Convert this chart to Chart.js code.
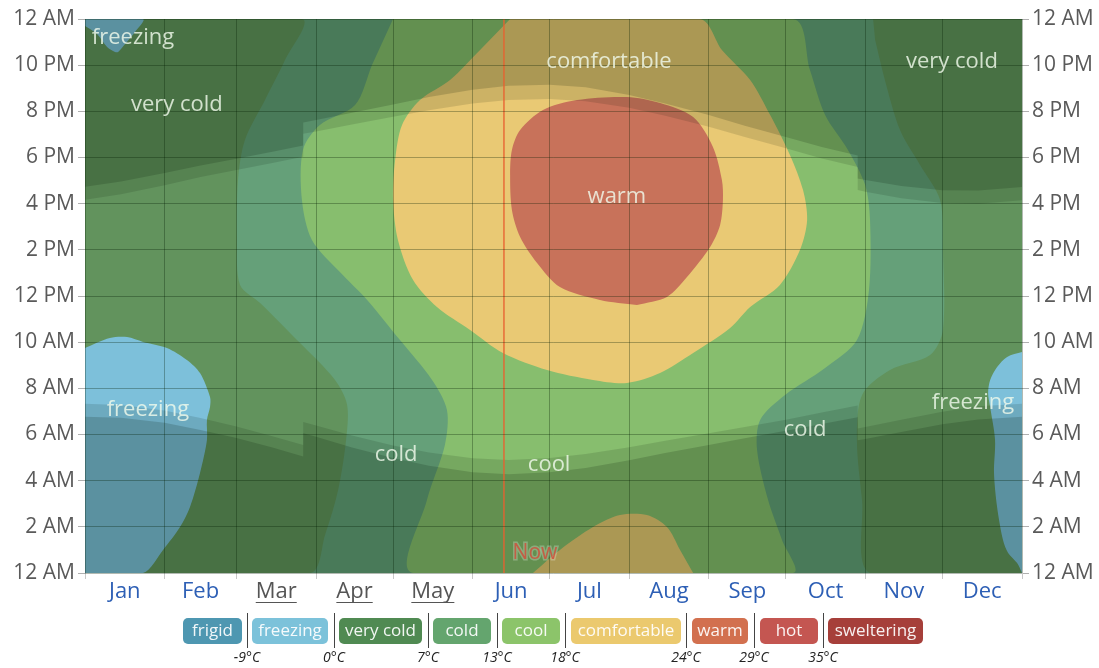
<!DOCTYPE html>
<html><head><meta charset="utf-8">
<script src="https://cdn.jsdelivr.net/npm/chart.js@4/dist/chart.umd.min.js"></script>
<style>html,body{margin:0;padding:0;background:#fff;overflow:hidden}canvas{display:block}</style>
</head><body>
<canvas id="c" width="1099" height="668"></canvas>
<script>
const FONT = '"Open Sans", "Noto Sans", "DejaVu Sans", sans-serif';

// ---------- axes ----------
const months = ['Jan','Feb','Mar','Apr','May','Jun','Jul','Aug','Sep','Oct','Nov','Dec'];
const monthStartDays = [0,31,59,90,120,151,181,212,243,273,304,334,365];
const linkedMonths = ['Mar','Apr','May'];
const hourTicks = [0,2,4,6,8,10,12,14,16,18,20,22,24];
const hourLabels = ['12 AM','2 AM','4 AM','6 AM','8 AM','10 AM','12 PM','2 PM','4 PM','6 PM','8 PM','10 PM','12 AM'];
const nowDay = 163.2;

// ---------- legend ----------
const bandNames = ['frigid','freezing','very cold','cold','cool','comfortable','warm','hot','sweltering'];
const bandThresholds = ['-9°C','0°C','7°C','13°C','18°C','24°C','29°C','35°C'];
const bandColors = ['#4e97b1','#7cc2da','#508a52','#64a56e','#8cc46a','#ebc96e','#d2704f','#c45651','#a63f3a'];

// ---------- sun (hour of day) ----------
const sunDays  = [0,14,31,45,59,73,85,85,90,104,120,134,151,165,181,195,212,226,243,257,273,287,301,301,304,318,334,348,365];
const sunsetH  = [16.17,16.41,16.80,17.15,17.46,17.76,18.03,19.03,19.13,19.43,19.77,20.05,20.34,20.49,20.53,20.44,20.15,19.81,19.33,18.89,18.40,17.96,17.59,16.59,16.52,16.23,16.03,16.00,16.15];
const duskH    = [16.73,16.96,17.33,17.65,17.95,18.25,18.52,19.52,19.62,19.94,20.30,20.62,20.94,21.11,21.15,21.04,20.71,20.34,19.84,19.38,18.89,18.46,18.09,17.09,17.03,16.76,16.58,16.57,16.72];
const sunriseH = [7.33,7.28,7.04,6.71,6.35,5.92,5.54,6.54,6.39,5.96,5.52,5.22,4.97,4.90,4.98,5.15,5.45,5.73,6.05,6.33,6.64,6.95,7.26,6.26,6.32,6.64,6.99,7.22,7.33];
const dawnH    = [6.77,6.73,6.51,6.20,5.85,5.44,5.05,6.05,5.90,5.44,4.98,4.65,4.37,4.28,4.36,4.55,4.88,5.20,5.55,5.84,6.16,6.46,6.75,5.75,5.81,6.11,6.44,6.65,6.77];

// ---------- temperature band outlines [day, hour] ----------
const wholeYear = [[0,0],[365,0],[365,24],[0,24]];
const veryColdWest = [[0,24],[84.5,24],[77.9,22.22],[70.1,20.49],[62.3,18.76],[59.6,17.03],[59.2,14.43],[60.4,12.48],[68.2,11.70],[83.8,9.96],[97.4,8.36],[102.1,7.28],[101.7,5.76],[98.6,3.60],[93.5,1.65],[87.7,0],[0,0]];
const veryColdEast = [[307.0,24],[365,24],[365,0],[305.8,0],[302.7,3.16],[300.7,5.76],[302.7,7.71],[313.6,8.79],[329.2,9.44],[334.2,10.53],[334.2,13.99],[333.1,16.16],[325.3,17.68],[317.5,19.19],[311.6,21.36],[307.8,23.09]];
const coolSeason = [[120.0,24],[275.8,24],[282.4,21.79],[288.3,19.84],[297.2,18.33],[303.9,16.81],[305.8,15.29],[305.4,12.26],[300.7,10.09],[288.3,8.88],[272.7,7.71],[263.0,6.63],[261.8,5.33],[266.1,3.16],[271.5,1.43],[275.8,0],[127.8,0],[133.2,3.16],[140.2,5.55],[141.0,7.06],[135.2,8.36],[122.7,10.09],[109.9,11.83],[99.3,13.04],[88.4,14.43],[84.5,16.16],[84.9,18.33],[91.5,19.41],[105.2,20.27],[111.8,22.01]];
const comfortableSeason = [[165.6,24],[239.6,24],[248.1,22.66],[259.1,21.36],[266.9,19.84],[274.6,18.11],[279.7,16.59],[281.3,15.29],[278.5,13.99],[270.7,12.48],[259.1,11.52],[251.3,10.61],[236.9,9.53],[224.0,8.66],[211.1,8.23],[197.9,8.36],[180.0,8.79],[162.8,9.53],[150.0,10.53],[137.1,11.52],[127.8,12.69],[121.9,14.43],[120.0,16.16],[120.8,17.89],[123.5,19.41],[130.5,20.49],[142.2,21.36],[153.9,22.66]];
const comfortableNights = [[174.5,0],[185.0,1.0],[197.9,1.99],[208.4,2.51],[218.9,2.51],[226.7,1.99],[231.8,1.0],[236.9,0]];
const warmSeason = [[215.0,11.61],[200.6,11.83],[185.0,12.39],[176.1,13.43],[169.5,14.56],[166.3,15.73],[165.6,17.24],[166.3,18.33],[169.5,19.19],[178.4,20.06],[191.7,20.49],[211.1,20.62],[224.0,20.36],[236.9,19.75],[244.6,18.46],[248.1,17.03],[248.5,16.16],[247.4,15.08],[243.5,14.12],[234.5,12.82],[226.7,11.96],[215.0,11.61]];
const freezingWinterMornings = [[0,9.75],[9.7,10.18],[16.4,10.22],[22.6,10.01],[31.9,9.75],[39.7,9.23],[44.8,8.66],[48.7,7.62],[48.7,7.19],[47.5,6.63],[47.5,5.76],[44.8,4.33],[40.9,2.86],[37.0,1.99],[30.4,1.0],[22.6,0],[0,0]];
const freezingDecMornings = [[365,9.57],[359.2,9.36],[355.3,8.92],[352.6,8.36],[351.8,7.80],[352.6,7.19],[354.5,5.76],[354.1,4.33],[355.3,2.86],[357.6,1.43],[359.6,0.87],[363.1,0.43],[365,0]];
const freezingJanNights = [[0,24],[22.6,24],[19.5,23.44],[15.6,22.92],[12.9,22.57],[11.7,22.57],[8.6,22.79],[4.7,23.35],[0,23.7]];

const fillColors = {freezing:'#7dc0da', veryCold:'#62935d', cold:'#65a079', cool:'#87be6e', comfortable:'#e9c974', warm:'#c8725a'};

const regionLabels = [
  ['freezing',18.7,23.18],['very cold',35.8,20.27],['comfortable',204.1,22.14],['warm',207.2,16.29],
  ['very cold',337.7,22.14],['freezing',24.5,7.06],['freezing',345.9,7.36],['cold',121.2,5.11],
  ['cold',280.5,6.2],['cool',180.8,4.68]
];

// ---------- build datasets ----------
const pts = a => a.map(p => ({x:p[0], y:p[1]}));
const curve = (hs) => sunDays.map((d,i) => ({x:d, y:hs[i]}));
const layers = [];
function area(data, color, tension){ layers.push({data, backgroundColor:color, borderWidth:0, fill:'shape', tension:tension||0, pointRadius:0}); }
area(pts(wholeYear), fillColors.cold);
area(pts(veryColdWest), fillColors.veryCold, 0.3);
area(pts(veryColdEast), fillColors.veryCold, 0.3);
area(pts(coolSeason), fillColors.cool, 0.3);
area(pts(comfortableSeason), fillColors.comfortable, 0.3);
area(pts(comfortableNights), fillColors.comfortable, 0.3);
area(pts(warmSeason), fillColors.warm, 0.3);
area(pts(freezingWinterMornings), fillColors.freezing, 0.3);
area(pts(freezingDecMornings), fillColors.freezing, 0.3);
area(pts(freezingJanNights), fillColors.freezing, 0.3);
area(curve(sunsetH).concat([{x:365,y:24},{x:0,y:24}]), 'rgba(0,20,0,0.12)');
area(curve(duskH).concat([{x:365,y:24},{x:0,y:24}]), 'rgba(0,20,0,0.16)');
area(curve(sunriseH).concat([{x:365,y:0},{x:0,y:0}]), 'rgba(0,20,0,0.12)');
area(curve(dawnH).concat([{x:365,y:0},{x:0,y:0}]), 'rgba(0,20,0,0.16)');
layers.push({data:[{x:nowDay,y:0},{x:nowDay,y:24}], borderColor:'rgba(232,96,48,0.9)', borderWidth:1.5, fill:false, pointRadius:0});
layers.forEach((l,i) => { l.order = layers.length - i; });

const monthMid = months.map((m,i) => (monthStartDays[i]+monthStartDays[i+1])/2);
const xTickVals = [];
monthStartDays.forEach((d,i) => { xTickVals.push(d); if (i < 12) xTickVals.push(monthMid[i]); });
const monthAt = v => { const i = monthMid.indexOf(v); return i >= 0 ? months[i] : ''; };
const hourLabel = v => { const i = hourTicks.indexOf(v); return i >= 0 ? hourLabels[i] : ''; };

const pillLeft  = [183,252,339,433,502,571,692,760,828];
const pillRight = [242,328,422,491,560,681,748,818,923];
const sepX      = [247,334,428,497,565,686,754,823];

const overlay = {
  id:'overlay',
  afterDraw(chart){
    const ctx = chart.ctx, x = chart.scales.x, y = chart.scales.y;
    ctx.save();
    ctx.textAlign = 'center'; ctx.textBaseline = 'middle';
    // region labels
    ctx.font = '22px ' + FONT;
    ctx.fillStyle = 'rgba(240,250,235,0.82)';
    regionLabels.forEach(([t,d,h]) => ctx.fillText(t, x.getPixelForValue(d), y.getPixelForValue(h)));
    // Now label
    ctx.font = '21px ' + FONT;
    ctx.lineWidth = 3; ctx.strokeStyle = 'rgba(255,255,255,0.25)';
    ctx.strokeText('Now', x.getPixelForValue(nowDay)+31, y.getPixelForValue(0.87));
    ctx.fillStyle = 'rgba(205,80,60,0.85)';
    ctx.fillText('Now', x.getPixelForValue(nowDay)+31, y.getPixelForValue(0.87));
    // underline linked months
    ctx.font = '22px ' + FONT;
    ctx.strokeStyle = '#555'; ctx.lineWidth = 1;
    linkedMonths.forEach(m => {
      const i = months.indexOf(m); const cx = x.getPixelForValue(monthMid[i]);
      const w = ctx.measureText(m).width;
      ctx.beginPath(); ctx.moveTo(cx-w/2, 602.5); ctx.lineTo(cx+w/2, 602.5); ctx.stroke();
    });
    // legend
    ctx.font = '17px ' + FONT;
    const top = 618, h = 26;
    bandNames.forEach((n,i) => {
      const w = pillRight[i] - pillLeft[i];
      ctx.fillStyle = bandColors[i];
      ctx.beginPath(); ctx.roundRect(pillLeft[i], top, w, h, 5); ctx.fill();
      ctx.fillStyle = 'rgba(255,255,255,0.92)';
      ctx.fillText(n, pillLeft[i] + w/2, top + h/2 + 0.5);
    });
    ctx.strokeStyle = '#444'; ctx.lineWidth = 1;
    ctx.font = 'italic 14px ' + FONT; ctx.fillStyle = '#222';
    sepX.forEach((s,i) => {
      const sx = s + 0.5;
      ctx.beginPath(); ctx.moveTo(sx, 613); ctx.lineTo(sx, 648); ctx.stroke();
      ctx.fillText(bandThresholds[i], s, 658);
    });
    ctx.restore();
  }
};

new Chart(document.getElementById('c'), {
  type:'line',
  data:{datasets:layers},
  options:{
    responsive:false, animation:false, devicePixelRatio:1, events:[],
    layout:{padding:{top:19,left:0,right:0,bottom:0}},
    plugins:{legend:{display:false}, tooltip:{enabled:false}},
    scales:{
      x:{type:'linear', min:0, max:365, position:'bottom',
        afterBuildTicks: s => { s.ticks = xTickVals.map(v => ({value:v})); },
        afterFit: s => { s.height = 95; },
        ticks:{autoSkip:false, maxRotation:0, padding:0, font:{family:FONT,size:22},
          callback: v => monthAt(v),
          color: c => linkedMonths.includes(monthAt(c.tick.value)) ? '#555' : '#2d5fb5'},
        grid:{z:1, tickLength:6,
          color: c => monthStartDays.includes(c.tick.value) ? 'rgba(0,25,0,0.3)' : 'rgba(0,0,0,0)',
          tickColor: c => monthStartDays.includes(c.tick.value) ? '#c8c8c8' : 'rgba(0,0,0,0)'},
        border:{display:false}},
      y:{type:'linear', min:0, max:24, position:'left',
        afterBuildTicks: s => { s.ticks = hourTicks.map(v => ({value:v})); },
        afterFit: s => { s.width = 85; },
        ticks:{padding:3, color:'#5a5a5a', font:{family:FONT,size:21}, callback: v => hourLabel(v)},
        grid:{z:1, tickLength:7, color:'rgba(0,25,0,0.3)', tickColor:'#b0b0b0'},
        border:{display:false}},
      y2:{type:'linear', min:0, max:24, position:'right',
        afterBuildTicks: s => { s.ticks = hourTicks.map(v => ({value:v})); },
        afterFit: s => { s.width = 77; },
        ticks:{padding:3, color:'#5a5a5a', font:{family:FONT,size:21}, callback: v => hourLabel(v)},
        grid:{drawOnChartArea:false, tickLength:7, tickColor:'#b0b0b0'},
        border:{display:false}}
    }
  },
  plugins:[overlay]
});
</script>
</body></html>
